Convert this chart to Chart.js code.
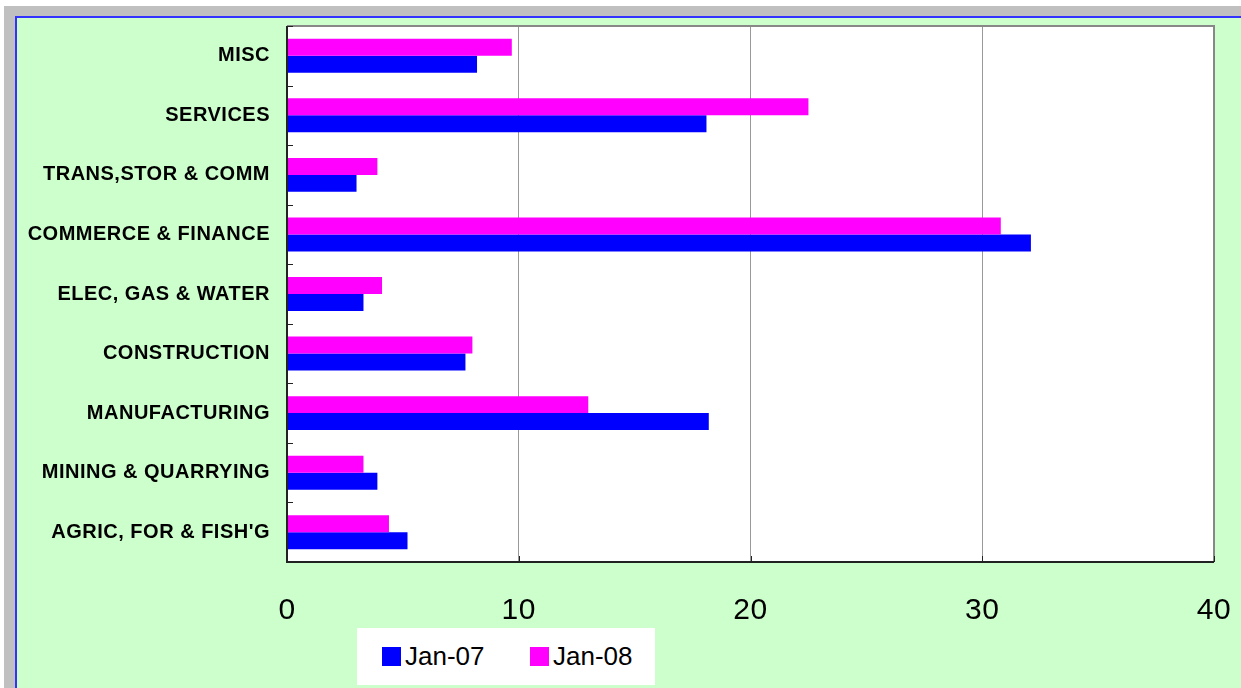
<!DOCTYPE html>
<html>
<head>
<meta charset="utf-8">
<script src="https://cdn.jsdelivr.net/npm/chart.js@4"></script>
<style>
  body { margin: 0; background: #fff; }
  #frame { position: absolute; left: 4px; top: 6px; width: 1237px; height: 682px; background: #c0c0c0; }
  #inner { position: absolute; left: 11px; top: 10px; right: 0; bottom: 0; background: #ccffcc;
           border-left: 2px solid #3333ff; border-top: 2px solid #3333ff; }
  #wrap { position: absolute; left: 16px; top: 18px; width: 1225px; height: 670px; }
  #legend { position: absolute; left: 357px; top: 628px; width: 298px; height: 57px; background: #fff;
            font-family: "Liberation Sans", Arial, sans-serif; font-size: 26px; color: #000; }
  .item { position: absolute; top: 0; height: 57px; display: flex; align-items: center; }
  .swatch { width: 19px; height: 19px; margin-right: 4px; }
</style>
</head>
<body>
<div id="frame"><div id="inner"></div></div>
<div id="wrap"><canvas id="barChart" width="1225" height="670"></canvas></div>
<div id="legend"></div>
<script>
const categories = ["MISC", "SERVICES", "TRANS,STOR & COMM", "COMMERCE & FINANCE", "ELEC, GAS & WATER",
  "CONSTRUCTION", "MANUFACTURING", "MINING & QUARRYING", "AGRIC, FOR & FISH'G"];
const jan07 = [8.2, 18.1, 3.0, 32.1, 3.3, 7.7, 18.2, 3.9, 5.2];
const jan08 = [9.7, 22.5, 3.9, 30.8, 4.1, 8.0, 13.0, 3.3, 4.4];
const xTicks = [0, 10, 20, 30, 40];

const fontFamily = '"Liberation Sans", Arial, sans-serif';

// no extra padding for label overhang, the plot box is fixed
function noPadding(scale) {
  scale.paddingTop = 0;
  scale.paddingBottom = 0;
  scale.paddingLeft = 0;
  scale.paddingRight = 0;
}

// white plot area + grey frame + small inside ticks
const plotFrame = {
  id: "plotFrame",
  beforeDraw(chart) {
    const { ctx, chartArea: a } = chart;
    ctx.letterSpacing = "0.5px";
    ctx.save();
    ctx.fillStyle = "#ffffff";
    ctx.fillRect(a.left, a.top, a.right - a.left, a.bottom - a.top);
    ctx.restore();
  },
  afterDatasetsDraw(chart) {
    const { ctx, chartArea: a, scales } = chart;
    ctx.save();
    ctx.strokeStyle = "#888888";
    ctx.lineWidth = 2;
    ctx.beginPath();
    ctx.moveTo(a.left, a.top);
    ctx.lineTo(a.right, a.top);
    ctx.lineTo(a.right, a.bottom);
    ctx.stroke();
    // axis lines
    ctx.strokeStyle = "#222222";
    ctx.lineWidth = 2;
    ctx.beginPath();
    ctx.moveTo(a.left, a.top);
    ctx.lineTo(a.left, a.bottom);
    ctx.lineTo(a.right, a.bottom);
    ctx.stroke();
    // category boundary ticks
    ctx.lineWidth = 1;
    ctx.beginPath();
    for (let i = 0; i <= categories.length; i++) {
      const y = Math.round(scales.y.getPixelForValue(i - 0.5)) + 0.5;
      ctx.moveTo(a.left, y);
      ctx.lineTo(a.left + 6, y);
    }
    xTicks.forEach(v => {
      const x = Math.round(scales.x.getPixelForValue(v)) + 0.5;
      ctx.moveTo(x, a.bottom);
      ctx.lineTo(x, a.bottom - 6);
    });
    ctx.stroke();
    ctx.restore();
  }
};

const ctx = document.getElementById("barChart").getContext("2d");
const barChart = new Chart(ctx, {
  type: "bar",
  data: {
    labels: categories,
    datasets: [
      { label: "Jan-08", data: jan08, backgroundColor: "#ff00ff", borderWidth: 0 },
      { label: "Jan-07", data: jan07, backgroundColor: "#0000ff", borderWidth: 0 }
    ]
  },
  options: {
    indexAxis: "y",
    responsive: false,
    animation: false,
    categoryPercentage: 0.57,
    barPercentage: 1.0,
    layout: { padding: { left: 0, top: 8, right: 27, bottom: 0 } },
    scales: {
      x: {
        min: 0,
        max: 40,
        afterBuildTicks: scale => { scale.ticks = xTicks.map(v => ({ value: v })); },
        afterFit: scale => { scale.height = 126; noPadding(scale); },
        grid: { color: "#999999", drawTicks: false, lineWidth: 1 },
        border: { display: false },
        ticks: { color: "#000", padding: 31, font: { family: fontFamily, size: 30 } }
      },
      y: {
        afterFit: scale => { scale.width = 271; noPadding(scale); },
        grid: { display: false, drawTicks: false },
        border: { display: false },
        ticks: { color: "#000", padding: 17, font: { family: fontFamily, size: 20, weight: "bold" } }
      }
    },
    plugins: {
      legend: { display: false },
      tooltip: { enabled: false }
    }
  },
  plugins: [plotFrame]
});

// legend box (Jan-07 first, as in the original)
const legendItems = [
  { text: "Jan-07", color: "#0000ff", left: 25 },
  { text: "Jan-08", color: "#ff00ff", left: 173 }
];
const legendEl = document.getElementById("legend");
legendItems.forEach(item => {
  const div = document.createElement("div");
  div.className = "item";
  div.style.left = item.left + "px";
  div.innerHTML = '<span class="swatch" style="background:' + item.color + '"></span><span>' + item.text + "</span>";
  legendEl.appendChild(div);
});
</script>
</body>
</html>
